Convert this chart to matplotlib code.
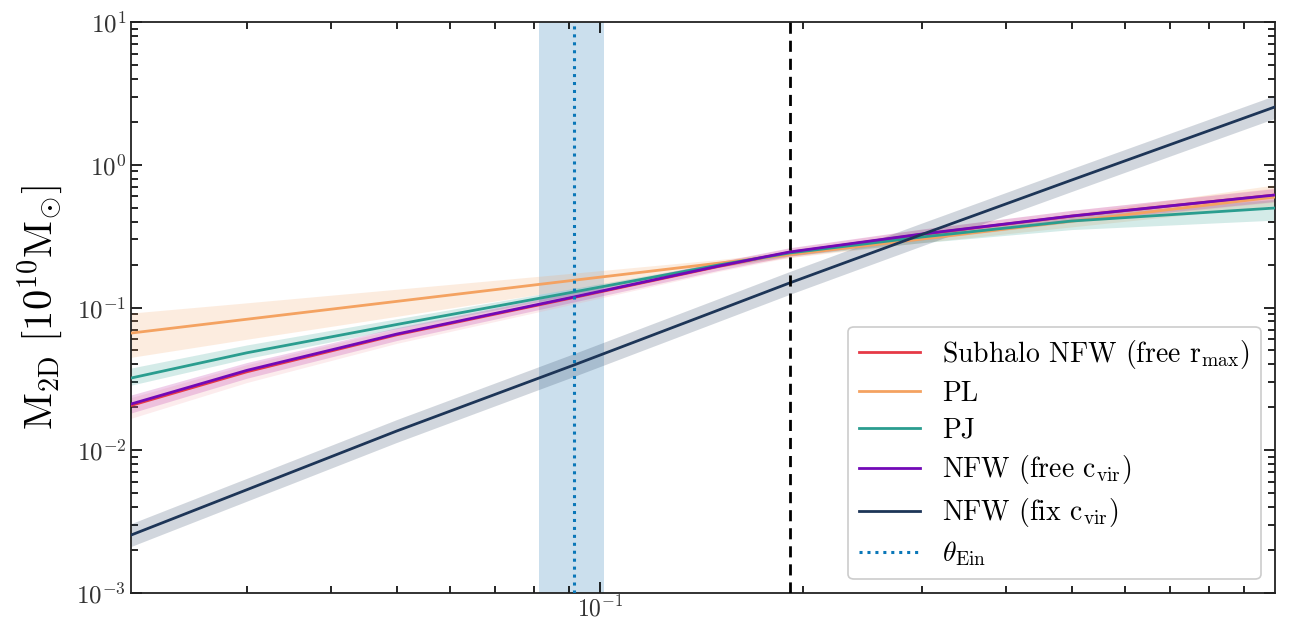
import matplotlib
matplotlib.use("Agg")
import matplotlib.pyplot as plt
import numpy as np

plt.rcParams['font.family'] = ['cmr10', 'DejaVu Serif']
plt.rcParams['mathtext.fontset'] = 'cm'
plt.rcParams['axes.formatter.use_mathtext'] = True

# radius grid [arcsec] and log10 of the projected mass for each model
r = [0.0202, 0.03, 0.05, 0.0915, 0.15, 0.191, 0.3, 0.5, 1.0]

logm_sub = [-1.686, -1.450, -1.191, -0.930, -0.712, -0.614, -0.487, -0.360, -0.212]
logm_pl = [-1.179, -1.082, -0.957, -0.809, -0.689, -0.630, -0.520, -0.395, -0.226]
logm_pj = [-1.494, -1.317, -1.119, -0.891, -0.702, -0.618, -0.506, -0.394, -0.303]
logm_nfw = [-1.676, -1.440, -1.186, -0.926, -0.709, -0.611, -0.485, -0.359, -0.212]
logm_fix = [-2.594, -2.276, -1.865, -1.403, -1.017, -0.828, -0.488, -0.107, 0.405]

# band offsets in dex (upper, lower)
sub_hi = [0.055, 0.05, 0.04, 0.035, 0.03, 0.03, 0.035, 0.04, 0.05]
sub_lo = [0.09, 0.075, 0.06, 0.045, 0.035, 0.035, 0.04, 0.045, 0.05]
pl_hi = [0.14, 0.115, 0.085, 0.05, 0.025, 0.02, 0.03, 0.05, 0.085]
pl_lo = [0.17, 0.14, 0.105, 0.06, 0.03, 0.02, 0.025, 0.04, 0.06]
pj_hi = [0.07, 0.055, 0.04, 0.025, 0.015, 0.015, 0.025, 0.04, 0.06]
pj_lo = [0.05, 0.04, 0.03, 0.02, 0.015, 0.02, 0.04, 0.06, 0.085]
nfw_err = [0.063, 0.055, 0.045, 0.035, 0.03, 0.03, 0.035, 0.04, 0.045]
fix_err = [0.08, 0.08, 0.08, 0.08, 0.08, 0.08, 0.08, 0.08, 0.08]

theta_ein = 0.0915
theta_ein_lo, theta_ein_hi = 0.0812, 0.1014
r_dash = 0.191

fig = plt.figure(figsize=(12.91, 6.2), dpi=100)
ax = fig.add_axes([0.1015, 0.0435, 0.886, 0.921])

ax.axvspan(theta_ein_lo, theta_ein_hi, color='#1f77b4', alpha=0.23, lw=0, zorder=1)

series = [
    (logm_sub, sub_hi, sub_lo, '#e63946', '#f4a0a6', r'Subhalo NFW (free $\mathrm{r_{max}}$)'),
    (logm_pl, pl_hi, pl_lo, '#f4a261', '#f4a261', 'PL'),
    (logm_pj, pj_hi, pj_lo, '#2a9d8f', '#2a9d8f', 'PJ'),
    (logm_nfw, nfw_err, nfw_err, '#7209b7', '#b5179e', r'NFW (free $\mathrm{c_{vir}}$)'),
    (logm_fix, fix_err, fix_err, '#1d3557', '#1d3557', r'NFW (fix $\mathrm{c_{vir}}$)'),
]

for logm, hi, lo, col, bcol, lab in series:
    logm = np.array(logm)
    ax.fill_between(r, 10 ** (logm - np.array(lo)), 10 ** (logm + np.array(hi)),
                    color=bcol, alpha=0.2, lw=0, zorder=2)
    ax.plot(r, 10 ** logm, color=col, lw=2, label=lab, zorder=3)

ax.axvline(theta_ein, color='#0a77b8', ls=(0, (1, 1.6)), lw=2.2, label=r'$\theta_{\mathrm{Ein}}$', zorder=4)
ax.axvline(r_dash, color='black', ls=(0, (4, 2.5)), lw=2, zorder=4)

ax.set_xscale('log')
ax.set_yscale('log')
ax.set_xlim(0.0202, 1.0)
ax.set_ylim(1e-3, 10)
ax.set_xticks([0.1])
ax.set_ylabel(r'$\mathrm{M_{2D}}\ [10^{10}\mathrm{M_{\odot}}]$', fontsize=29, labelpad=8)

ax.tick_params(which='both', direction='in', top=True, right=True, labelsize=18,
               labelcolor='#333333')
ax.tick_params(axis='x', which='both', labelsize=17, pad=2)
ax.tick_params(which='major', length=8, width=1.2)
ax.tick_params(which='minor', length=5, width=1.2)
for s in ax.spines.values():
    s.set_linewidth(1.3)
    s.set_color('#222222')

leg = ax.legend(loc='lower right', fontsize=20, frameon=True, fancybox=True,
                framealpha=1, edgecolor='#cccccc', handlelength=2.2,
                borderaxespad=0.5, labelspacing=0.36)
leg.get_frame().set_linewidth(1.2)

fig.savefig('out.png', dpi=100)
